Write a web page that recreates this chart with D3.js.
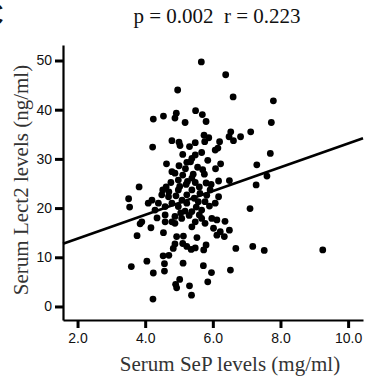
<!DOCTYPE html>
<html>
<head>
<meta charset="utf-8">
<script src="https://cdn.jsdelivr.net/npm/d3@7/dist/d3.min.js"></script>
<style>
  html, body { margin: 0; padding: 0; background: #fff; }
  svg { display: block; }
  .serif { font-family: "Liberation Serif", "Times New Roman", serif; }
  .tick text { font-family: "Liberation Sans", Arial, sans-serif; }
</style>
</head>
<body>
<svg id="chart" width="365" height="382"></svg>
<script>
// ---- data ----
const sepLevels = [
  5.66, 6.38, 4.96, 6.60, 7.79, 5.49, 5.69, 5.80, 5.18, 4.92, 4.88, 4.54, 4.24, 7.73,
  4.22, 4.79, 5.00, 5.03, 5.31, 5.48, 5.74, 5.76, 5.88, 6.20, 6.53, 6.48, 6.61, 6.82, 7.12,
  5.11, 5.38, 5.48, 5.67, 5.34, 5.23, 5.85, 6.07, 6.15, 4.63, 6.23, 6.08, 5.19, 4.79, 4.88,
  5.42, 5.75, 7.70, 7.30, 7.60, 6.17, 6.49, 7.28, 5.80, 5.48, 4.98, 5.11, 5.21, 5.38,
  3.82, 3.51, 3.54, 4.62, 4.52, 4.20, 4.09, 4.49, 4.69, 4.98, 5.38, 5.62, 5.92, 6.17,
  6.07, 5.77, 5.57, 4.39, 4.29, 4.59, 4.79, 4.98, 5.23, 5.38, 5.67, 4.88, 4.59, 5.08,
  4.79, 5.67, 5.97, 3.90, 6.12, 6.36, 7.10, 5.82, 5.23, 4.35, 6.02, 6.49,
  5.09, 5.51, 4.91, 5.18,
  5.25, 5.60, 5.95, 5.02, 4.76, 5.45, 5.90, 5.30, 5.05, 5.60, 4.70, 5.70, 5.55, 5.00,
  3.85, 4.17, 3.76, 4.54, 4.59, 4.88, 5.38, 5.48, 5.77, 6.22, 6.34, 6.12, 4.93, 5.13,
  5.53, 5.80, 4.83, 4.88, 5.11, 5.23, 5.36, 5.48, 5.73, 6.68, 4.53, 4.70, 4.57, 3.59,
  4.05, 5.12, 5.72, 4.24, 4.57, 5.96, 6.52, 7.18, 7.52, 9.25, 5.02, 4.90, 4.93, 5.31,
  5.37, 5.85, 4.23
];
const lect2Levels = [
  49.7, 47.1, 44.0, 42.6, 41.8, 39.8, 39.0, 37.6, 37.4, 39.3, 38.3, 38.7, 38.1, 37.4,
  32.4, 33.7, 33.4, 32.7, 32.5, 33.3, 34.8, 33.5, 34.3, 33.5, 35.5, 34.5, 33.7, 34.5, 35.5,
  30.9, 30.1, 30.8, 31.3, 29.4, 29.3, 29.7, 31.8, 32.2, 29.0, 29.0, 28.0, 28.0, 27.4, 27.1,
  26.9, 26.9, 31.1, 28.8, 26.5, 25.5, 25.6, 24.7, 25.1, 25.2, 25.7, 26.7, 24.8, 26.1,
  24.3, 21.9, 20.2, 24.3, 23.7, 21.6, 21.0, 22.7, 22.3, 23.7, 23.7, 23.0, 23.7, 22.3,
  21.0, 21.3, 21.3, 21.0, 19.6, 20.3, 21.0, 20.3, 21.0, 19.3, 19.6, 18.3, 18.6, 17.9,
  17.2, 17.9, 17.9, 17.2, 17.6, 17.3, 19.9, 22.6, 22.7, 18.0, 15.9, 15.5,
  21.6, 20.2, 22.5, 19.4,
  25.4, 24.3, 24.8, 24.4, 25.2, 22.0, 20.4, 18.5, 19.0, 18.6, 23.3, 27.8, 28.3, 28.6,
  16.8, 16.0, 14.4, 15.0, 17.2, 16.9, 16.2, 17.2, 16.9, 15.2, 14.2, 14.5, 14.2, 14.3,
  14.0, 12.5, 11.8, 12.7, 12.8, 12.2, 11.6, 11.9, 11.5, 11.8, 10.3, 10.4, 8.7, 8.1,
  9.2, 8.8, 8.3, 6.8, 7.2, 6.9, 7.4, 12.2, 11.4, 11.5, 5.5, 4.5, 3.8, 4.2,
  2.3, 5.0, 1.5
];
const xTicks = [2, 4, 6, 8, 10];
const yTicks = [0, 10, 20, 30, 40, 50];
const fitIntercept = 8.95;
const fitSlope = 2.42;
const titleText = "p = 0.002  r = 0.223";
const xTitle = "Serum SeP levels (mg/ml)";
const yTitle = "Serum Lect2 levels (ng/ml)";
const panelLabel = "C";

// ---- drawing ----
const svg = d3.select("#chart");
const x = d3.scaleLinear().domain([1.57, 10.44]).range([63, 363]);
const y = d3.scaleLinear().domain([-2.75, 53.15]).range([320, 45]);

// panel label (cropped at the left edge, as in the reference)
svg.append("text")
  .attr("x", 4).attr("y", 26)
  .attr("text-anchor", "end")
  .attr("font-family", "Liberation Sans, Arial, sans-serif")
  .attr("font-size", 34)
  .attr("fill", "#111")
  .text(panelLabel);

// title
svg.append("text")
  .attr("class", "serif")
  .attr("x", 217).attr("y", 22.5)
  .attr("text-anchor", "middle")
  .attr("font-size", 21)
  .attr("fill", "#111")
  .style("white-space", "pre")
  .text(titleText);

// regression line
const xd = x.domain();
svg.append("line")
  .attr("x1", x(xd[0])).attr("y1", y(fitIntercept + fitSlope * xd[0]))
  .attr("x2", x(xd[1])).attr("y2", y(fitIntercept + fitSlope * xd[1]))
  .attr("stroke", "#000").attr("stroke-width", 2.6);

// points
svg.append("g").selectAll("circle")
  .data(sepLevels.map((v, i) => [v, lect2Levels[i]]))
  .join("circle")
  .attr("cx", d => x(d[0]))
  .attr("cy", d => y(d[1]))
  .attr("r", 3.4)
  .attr("fill", "#000");

// axes
const xAxis = svg.append("g")
  .attr("transform", "translate(0,320)")
  .call(d3.axisBottom(x).tickValues(xTicks).tickFormat(d3.format(".1f")).tickSize(8).tickSizeOuter(0).tickPadding(5));
const yAxis = svg.append("g")
  .attr("transform", "translate(63,0)")
  .call(d3.axisLeft(y).tickValues(yTicks).tickFormat(d3.format("d")).tickSize(8).tickSizeOuter(0).tickPadding(3));

[xAxis, yAxis].forEach(g => {
  g.select(".domain").attr("stroke", "#000").attr("stroke-width", 2.2);
  g.selectAll(".tick line").attr("stroke", "#000").attr("stroke-width", 3);
  g.selectAll(".tick text").attr("font-size", 14).attr("fill", "#111");
});

// axis titles
svg.append("text")
  .attr("class", "serif")
  .attr("x", 230).attr("y", 371)
  .attr("text-anchor", "middle")
  .attr("font-size", 21)
  .attr("fill", "#333")
  .text(xTitle);

svg.append("text")
  .attr("class", "serif")
  .attr("transform", "translate(28,180) rotate(-90)")
  .attr("text-anchor", "middle")
  .attr("font-size", 21)
  .attr("fill", "#333")
  .text(yTitle);
</script>
</body>
</html>
